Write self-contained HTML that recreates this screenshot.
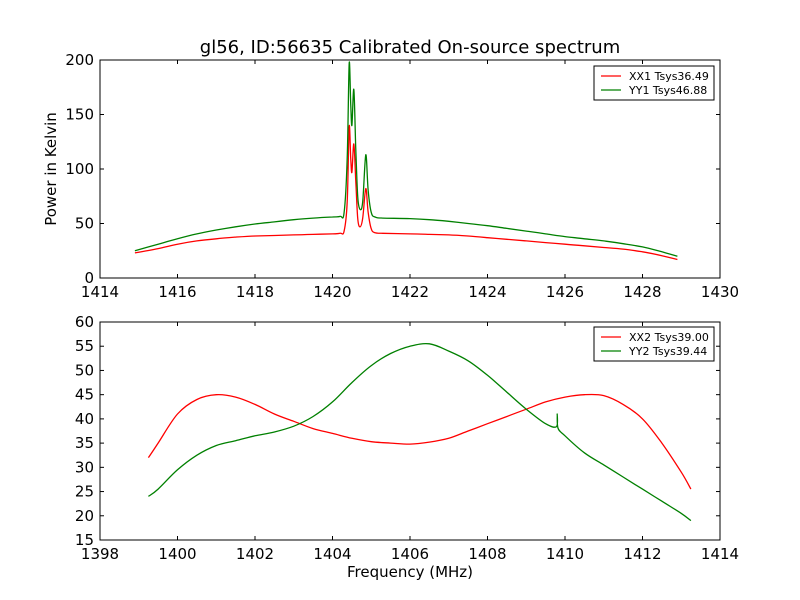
<!DOCTYPE html>
<html><head><meta charset="utf-8"><style>
body{margin:0;background:#fff}
svg{display:block;font-family:"DejaVu Sans","Liberation Sans",sans-serif}
</style></head><body>
<svg id="c" width="800" height="600"></svg>
<script>
const topFreq=[1414.9,1415.5,1416,1416.5,1417,1417.5,1418,1418.5,1419,1419.5,1420,1420.2,1420.3,1420.38,1420.43,1420.47,1420.5,1420.55,1420.6,1420.65,1420.71,1420.78,1420.86,1420.92,1421,1421.1,1421.3,1422,1422.5,1423,1423.5,1424,1424.5,1425,1425.5,1426,1426.5,1427,1427.5,1428,1428.5,1428.9];
const xx1=[23,27,31,34,36,37.5,38.5,39,39.5,40,40.5,41,43,70,139,110,97,123,90,55,47,55,82,60,45,41.5,41,40.5,40,39.5,38.5,37,35.5,34,32.5,31,29.5,28,26.5,24,20.5,17];
const yy1=[25,31,36,40.5,44,47,49.5,51.5,53.5,55,56,56.5,60,110,197,160,140,173,120,75,63,70,113,80,60,56,55,54.5,53.5,52,50,48,45.5,43,40.5,38,36,34,31.5,28.5,24,20];
const botFreqR=[1399.25,1399.5,1400,1400.5,1401,1401.5,1402,1402.5,1403,1403.5,1404,1404.5,1405,1405.5,1406,1406.5,1407,1407.5,1408,1408.5,1409,1409.5,1410,1410.5,1411,1411.5,1412,1412.5,1413,1413.25];
const xx2=[32,35,41,44,45,44.5,43,41,39.5,38,37,36,35.3,35,34.8,35.2,36,37.5,39,40.5,42,43.5,44.5,45,44.8,43,40,35,29,25.5];
const botFreqG=[1399.25,1399.5,1400,1400.5,1401,1401.5,1402,1402.5,1403,1403.5,1404,1404.5,1405,1405.5,1406,1406.5,1407,1407.5,1408,1408.5,1409,1409.5,1409.78,1409.8,1409.82,1410,1410.5,1411,1411.5,1412,1412.5,1413,1413.25];
const yy2=[24,25.5,29.5,32.5,34.5,35.5,36.5,37.3,38.5,40.5,43.5,47.5,51,53.5,55,55.5,54,52,49,45.5,42,39,38.4,41,38.1,36.5,33,30.5,28,25.5,23,20.5,19];
const topXTicks=[1414,1416,1418,1420,1422,1424,1426,1428,1430];
const topYTicks=[0,50,100,150,200];
const botXTicks=[1398,1400,1402,1404,1406,1408,1410,1412,1414];
const botYTicks=[15,20,25,30,35,40,45,50,55,60];

const NS="http://www.w3.org/2000/svg";
const svg=document.getElementById('c');
function el(t,a,p){const e=document.createElementNS(NS,t);for(const k in a)e.setAttribute(k,a[k]);(p||svg).appendChild(e);return e;}

function panel(name,L,T,R,B,xmin,xmax,ymin,ymax,xt,yt){
  const g=el('g',{});
  
  
  const sx=v=>L+(v-xmin)/(xmax-xmin)*(R-L);
  const sy=v=>B-(v-ymin)/(ymax-ymin)*(B-T);
  xt.forEach(v=>{
    const x=sx(v);
    el('line',{x1:x,x2:x,y1:B,y2:B-4,stroke:'#000'},g);
    el('line',{x1:x,x2:x,y1:T,y2:T+4,stroke:'#000'},g);
    const t=el('text',{x:x,y:B+19,'text-anchor':'middle','font-size':15},g);
    t.textContent=v;
    
    
  });
  yt.forEach(v=>{
    const y=sy(v);
    el('line',{x1:L,x2:L+4,y1:y,y2:y,stroke:'#000'},g);
    el('line',{x1:R,x2:R-4,y1:y,y2:y,stroke:'#000'},g);
    const t=el('text',{x:L-6,y:y+5,'text-anchor':'end','font-size':15},g);
    t.textContent=v;
    
    
  });
  return {g,sx,sy,L,T,R,B};
}
function series(p,xs,ys,color,name){
  const P=xs.map((x,i)=>[p.sx(x),p.sy(ys[i])]);
  let d='M'+P[0][0].toFixed(1)+','+P[0][1].toFixed(1);
  for(let i=0;i<P.length-1;i++){
    const p0=P[Math.max(0,i-1)],p1=P[i],p2=P[i+1],p3=P[Math.min(P.length-1,i+2)];
    const c1=[p1[0]+(p2[0]-p0[0])/6,p1[1]+(p2[1]-p0[1])/6];
    const c2=[p2[0]-(p3[0]-p1[0])/6,p2[1]-(p3[1]-p1[1])/6];
    d+='C'+c1[0].toFixed(1)+','+c1[1].toFixed(1)+' '+c2[0].toFixed(1)+','+c2[1].toFixed(1)+' '+p2[0].toFixed(1)+','+p2[1].toFixed(1);
  }
  const e=el('path',{d:d,fill:'none',stroke:color,'stroke-width':1.3,'stroke-linejoin':'round'},p.g);
  
  
}
function legend(p,x,y,labels,colors,name){
  const lg=el('g',{},p.g);
  
  
  el('rect',{x:x,y:y,width:120,height:34,fill:'#fff',stroke:'#000','stroke-width':1},lg);
  labels.forEach((l,i)=>{
    const yy=y+10+i*14;
    el('line',{x1:x+7,x2:x+27,y1:yy,y2:yy,stroke:colors[i],'stroke-width':1.2},lg);
    const t=el('text',{x:x+35,y:yy+4,'font-size':11},lg);
    t.textContent=l;
    
    
  });
}
const p1=panel('top-panel',100,60,720,278,1414,1430,0,200,topXTicks,topYTicks);
series(p1,topFreq,xx1,'#ff0000','xx1-line');
series(p1,topFreq,yy1,'#008000','yy1-line');
el('rect',{x:100,y:60,width:620,height:218,fill:'none',stroke:'#000','stroke-width':1},p1.g);
legend(p1,594,66,['XX1 Tsys36.49','YY1 Tsys46.88'],['#ff0000','#008000'],'top-legend');

const p2=panel('bottom-panel',100,322,720,540,1398,1414,15,60,botXTicks,botYTicks);
series(p2,botFreqR,xx2,'#ff0000','xx2-line');
series(p2,botFreqG,yy2,'#008000','yy2-line');
el('rect',{x:100,y:322,width:620,height:218,fill:'none',stroke:'#000','stroke-width':1},p2.g);
legend(p2,594,327,['XX2 Tsys39.00','YY2 Tsys39.44'],['#ff0000','#008000'],'bottom-legend');

let t=el('text',{x:410,y:53,'text-anchor':'middle','font-size':18});
t.textContent='gl56, ID:56635 Calibrated On-source spectrum';


t=el('text',{x:56,y:169,'text-anchor':'middle','font-size':15,transform:'rotate(-90 56 169)'});
t.textContent='Power in Kelvin';


t=el('text',{x:410,y:577,'text-anchor':'middle','font-size':15});
t.textContent='Frequency (MHz)';


</script>
</body></html>
